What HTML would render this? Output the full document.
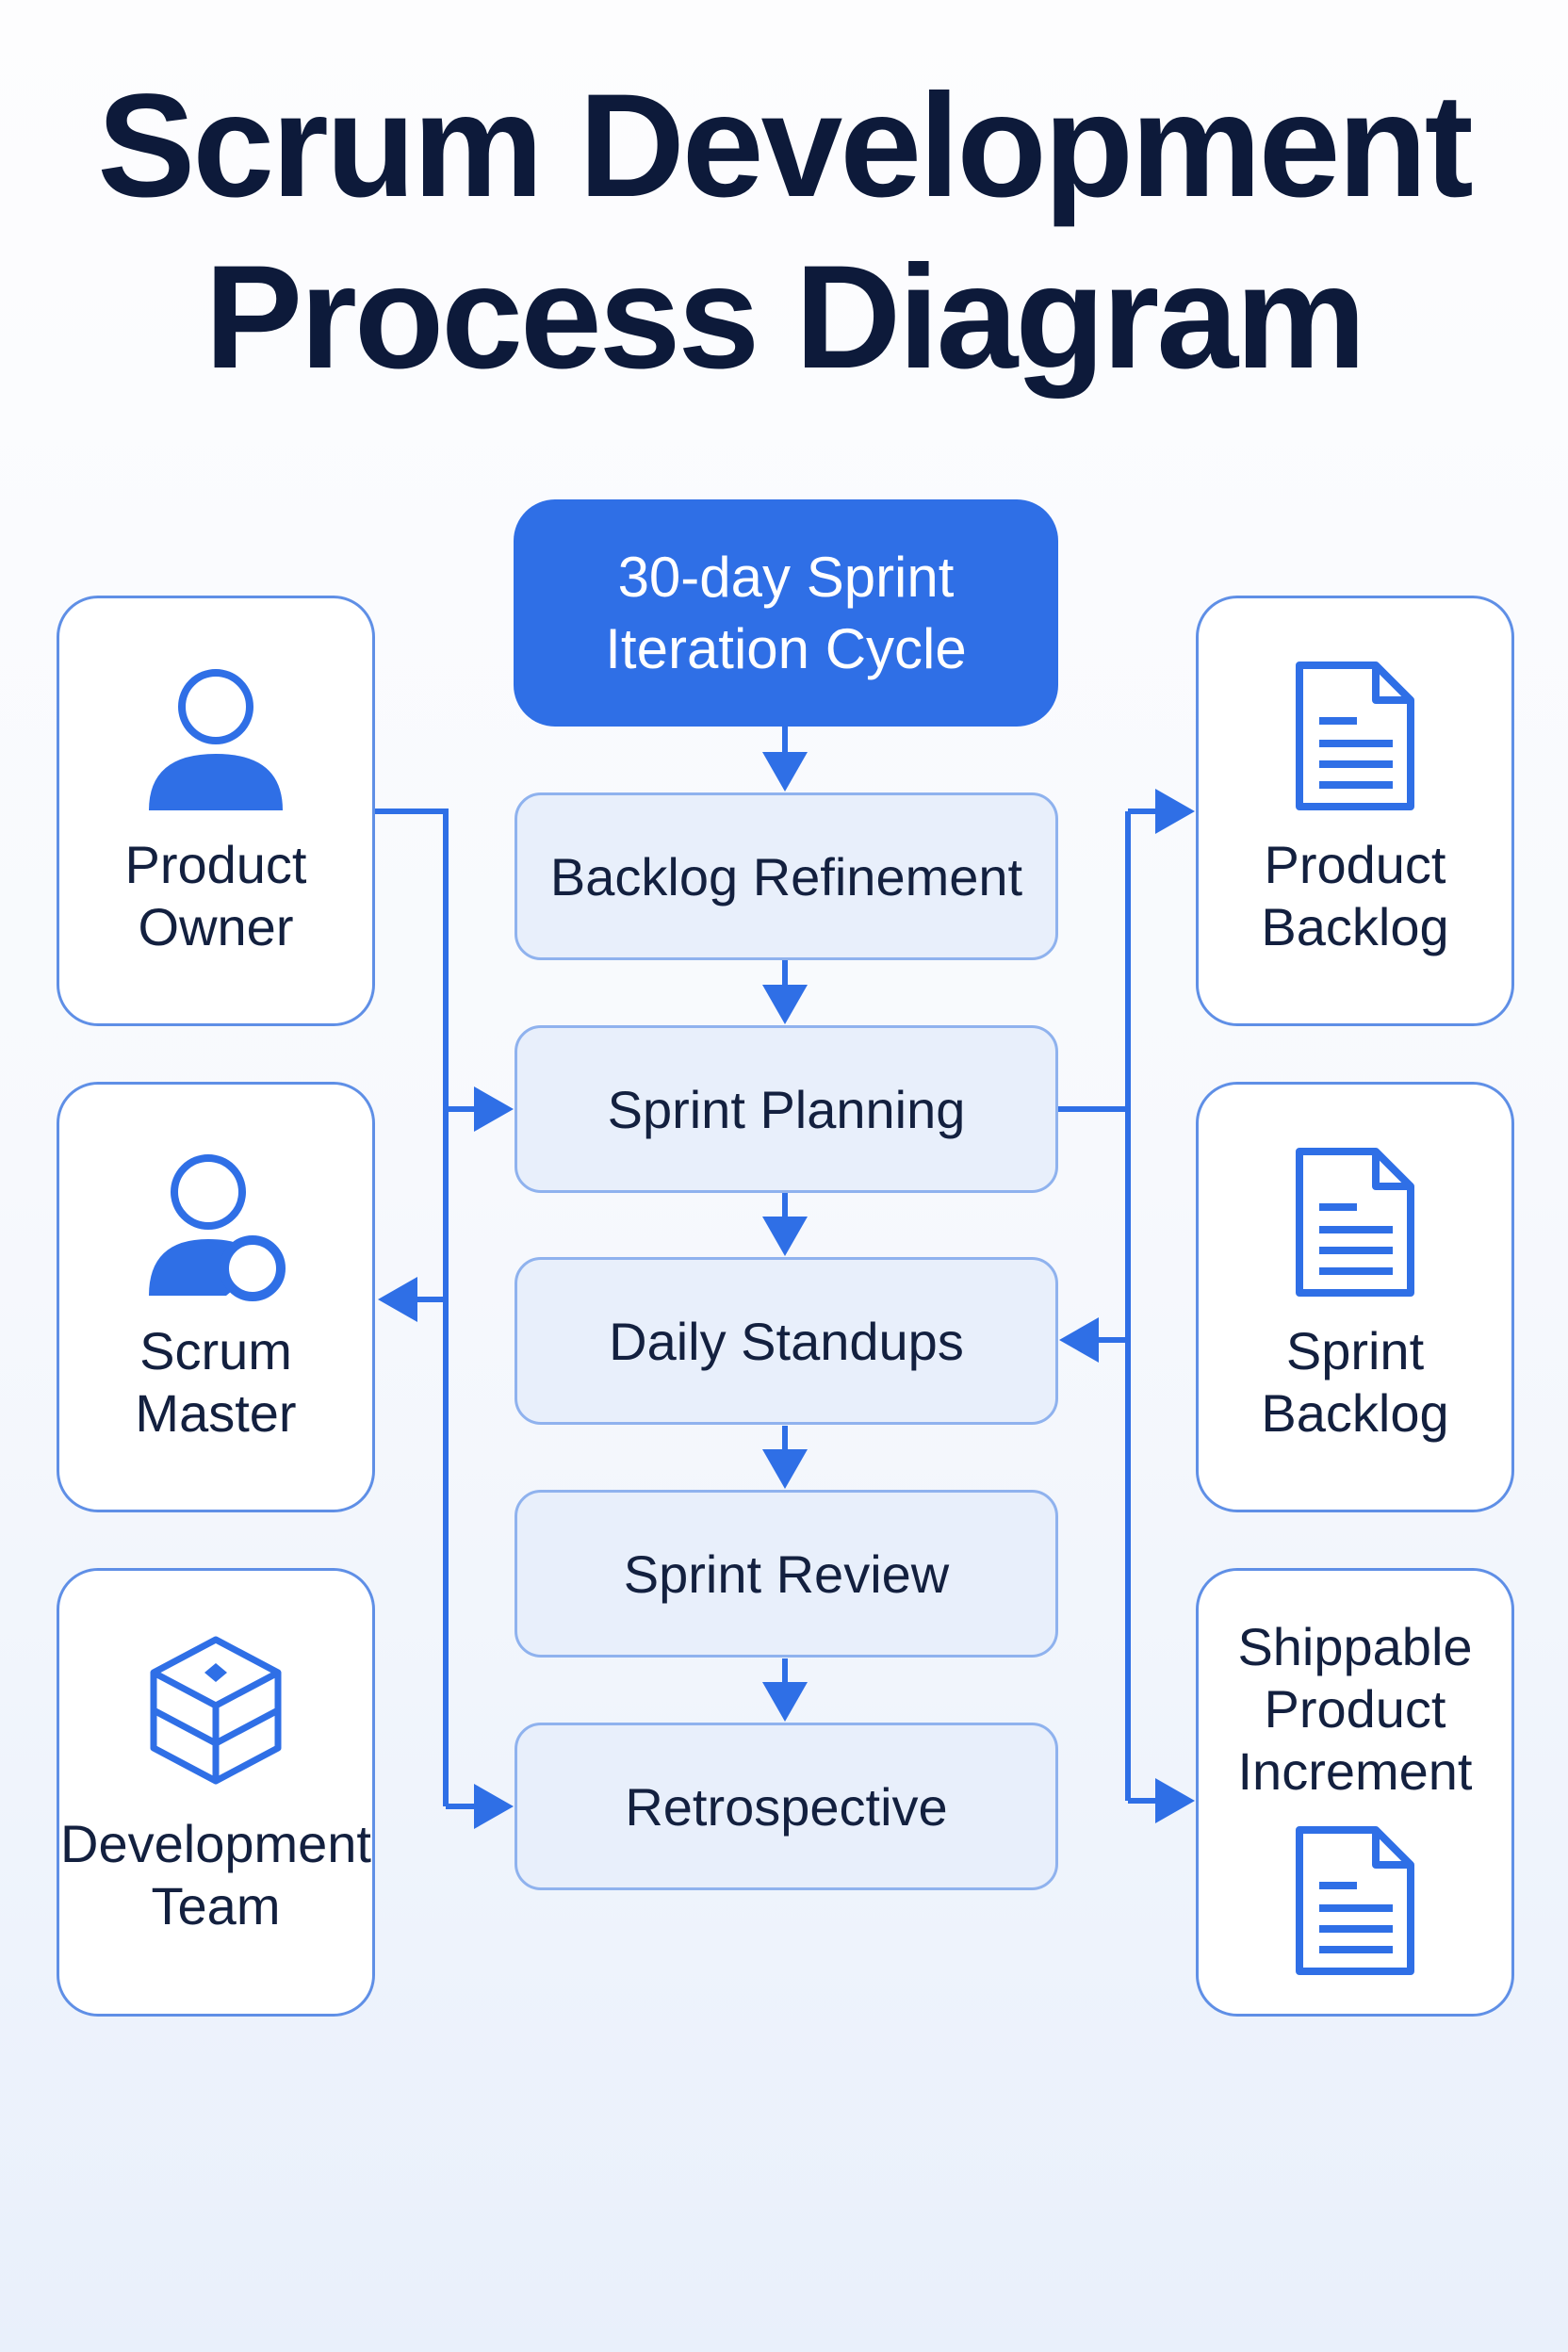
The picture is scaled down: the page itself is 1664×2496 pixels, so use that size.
<!DOCTYPE html>
<html><head><meta charset="utf-8"><style>
body{margin:0;width:1664px;height:2496px;background:linear-gradient(#fdfdfe 0%,#f7f9fd 50%,#e9f0fb 100%);font-family:"Liberation Sans",sans-serif;position:relative;overflow:hidden}
.t{position:absolute;left:0;width:1664px;text-align:center;font-weight:bold;color:#0d1a3a;font-size:156px;letter-spacing:-3px}
.b{position:absolute;box-sizing:border-box;display:flex;align-items:center;justify-content:center;text-align:center}
.c{left:546px;width:577px;height:178px;background:#e8effb;border:3px solid #8fb2ee;border-radius:28px;font-size:56px;color:#13203f}
.s{width:338px;height:457px;background:#fff;border:3px solid #5f8fe6;border-radius:44px;font-size:56px;color:#13203f;line-height:66px;flex-direction:column}
</style></head><body>
<div class="t" style="top:66px">Scrum Development</div>
<div class="t" style="top:248px">Process Diagram</div>
<div class="b" style="left:545px;top:530px;width:578px;height:241px;background:#2f6fe6;border-radius:44px;color:#fff;font-size:60px;line-height:76px">30-day Sprint<br>Iteration Cycle</div>
<div class="b c" style="top:841px">Backlog Refinement</div>
<div class="b c" style="top:1088px">Sprint Planning</div>
<div class="b c" style="top:1334px">Daily Standups</div>
<div class="b c" style="top:1581px">Sprint Review</div>
<div class="b c" style="top:1828px">Retrospective</div>

<div class="b s" style="left:60px;top:632px;padding-top:180px">Product<br>Owner</div>
<div class="b s" style="left:60px;top:1148px;padding-top:180px">Scrum<br>Master</div>
<div class="b s" style="left:60px;top:1664px;height:476px;padding-top:176px;font-size:56px;white-space:nowrap">Development<br>Team</div>
<div class="b s" style="left:1269px;top:632px;padding-top:180px">Product<br>Backlog</div>
<div class="b s" style="left:1269px;top:1148px;padding-top:180px">Sprint<br>Backlog</div>
<div class="b s" style="left:1269px;top:1664px;height:476px;justify-content:flex-start;padding-top:48px">Shippable<br>Product<br>Increment</div>

<svg width="1664" height="2496" style="position:absolute;left:0;top:0">
<defs><marker id="a" markerWidth="8" markerHeight="8" refX="6" refY="4" orient="auto" markerUnits="strokeWidth"><path d="M0,0 L7,4 L0,8 z" fill="#2f6fe6"/></marker></defs>
<g stroke="#2f6fe6" stroke-width="6" fill="none">
<line x1="833" y1="771" x2="833" y2="834" marker-end="url(#a)"/>
<line x1="833" y1="1019" x2="833" y2="1081" marker-end="url(#a)"/>
<line x1="833" y1="1266" x2="833" y2="1327" marker-end="url(#a)"/>
<line x1="833" y1="1513" x2="833" y2="1574" marker-end="url(#a)"/>
<line x1="833" y1="1760" x2="833" y2="1821" marker-end="url(#a)"/>
<polyline points="398,861 473,861 473,1917"/>
<line x1="473" y1="1177" x2="539" y2="1177" marker-end="url(#a)"/>
<line x1="473" y1="1917" x2="539" y2="1917" marker-end="url(#a)"/>
<line x1="473" y1="1379" x2="407" y2="1379" marker-end="url(#a)"/>
<polyline points="1123,1177 1197,1177"/>
<line x1="1197" y1="861" x2="1197" y2="1911"/>
<line x1="1197" y1="861" x2="1262" y2="861" marker-end="url(#a)"/>
<line x1="1197" y1="1911" x2="1262" y2="1911" marker-end="url(#a)"/>
<line x1="1197" y1="1422" x2="1130" y2="1422" marker-end="url(#a)"/>
</g>
<g fill="#2f6fe6">
<circle cx="229" cy="750" r="36" fill="none" stroke="#2f6fe6" stroke-width="8"/>
<path d="M158,860 Q158,800 229,800 Q300,800 300,860 Z"/>
<circle cx="221" cy="1265" r="36" fill="none" stroke="#2f6fe6" stroke-width="8"/>
<path d="M158,1375 Q158,1315 221,1315 Q270,1315 276,1345 L240,1375 Z"/>
<circle cx="268" cy="1346" r="30" fill="#fff" stroke="#2f6fe6" stroke-width="10"/>
</g>
<g fill="none" stroke="#2f6fe6" stroke-width="7" stroke-linejoin="round">
<path d="M229,1740 L295,1775 L229,1810 L163,1775 Z"/>
<path d="M163,1775 L163,1855 L229,1890 L295,1855 L295,1775"/>
<path d="M163,1815 L229,1850 L295,1815 M229,1810 L229,1890"/>
</g>
<path d="M229,1765 L241,1775 L229,1785 L217,1775 Z" fill="#2f6fe6"/>
<g fill="none" stroke="#2f6fe6" stroke-width="8" stroke-linejoin="round">
<path d="M1379,706 L1460,706 L1497,743 L1497,856 L1379,856 Z M1460,706 L1460,743 L1497,743"/>
<path d="M1379,1222 L1460,1222 L1497,1259 L1497,1372 L1379,1372 Z M1460,1222 L1460,1259 L1497,1259"/>
<path d="M1379,1942 L1460,1942 L1497,1979 L1497,2092 L1379,2092 Z M1460,1942 L1460,1979 L1497,1979"/>
<path d="M1400,765 H1440 M1400,789 H1478 M1400,811 H1478 M1400,833 H1478"/>
<path d="M1400,1281 H1440 M1400,1305 H1478 M1400,1327 H1478 M1400,1349 H1478"/>
<path d="M1400,2001 H1440 M1400,2025 H1478 M1400,2047 H1478 M1400,2069 H1478"/>
</g>
</svg>
</body></html>
